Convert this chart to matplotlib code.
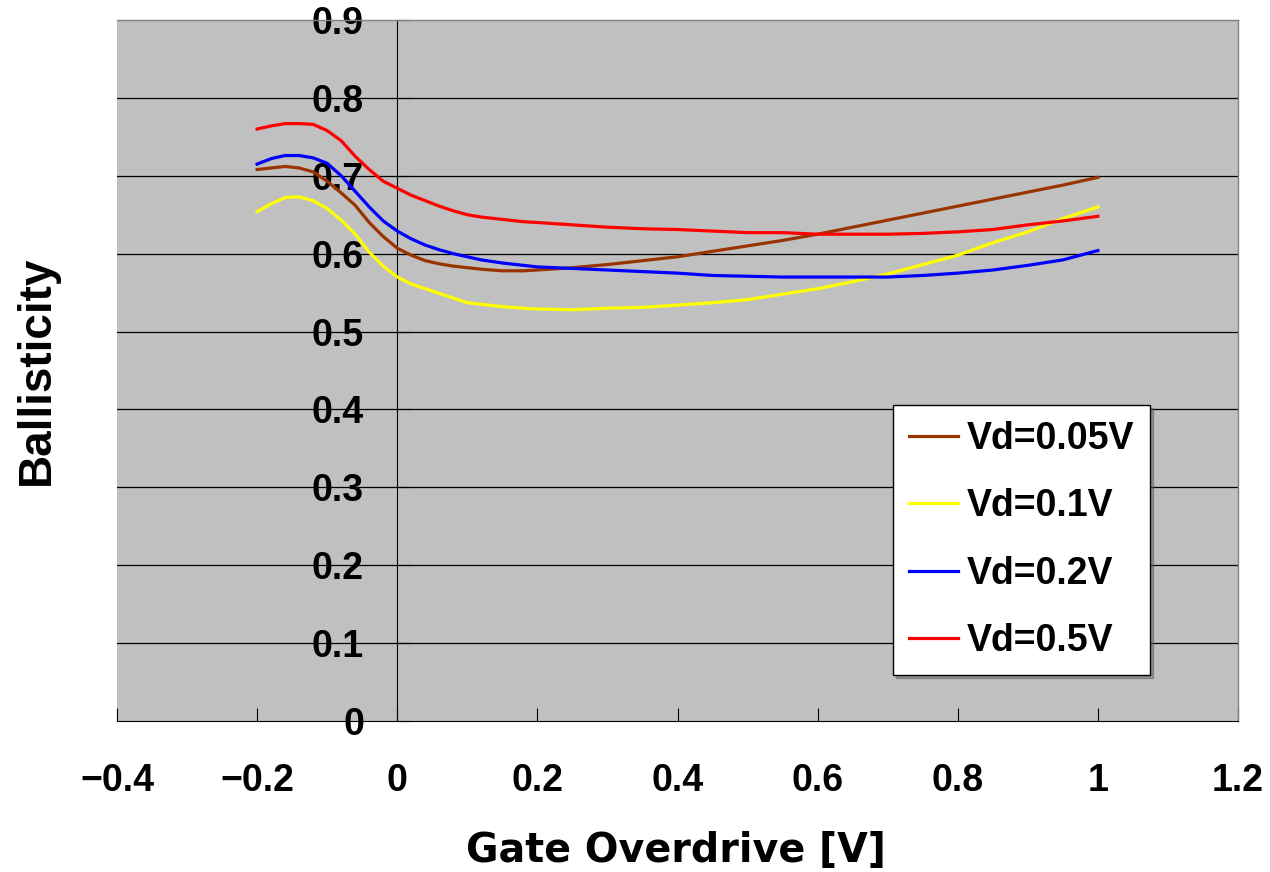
import matplotlib
matplotlib.use("Agg")
import matplotlib.pyplot as plt

plt.rcParams['font.family'] = ['Liberation Sans', 'DejaVu Sans']

# gate overdrive [V]
vg = [-0.2, -0.18, -0.16, -0.14, -0.12, -0.1, -0.08, -0.06, -0.04, -0.02,
      0, 0.02, 0.04, 0.06, 0.08, 0.1, 0.12, 0.15, 0.18, 0.2,
      0.25, 0.3, 0.35, 0.4, 0.45, 0.5, 0.55, 0.6, 0.65, 0.7,
      0.75, 0.8, 0.85, 0.9, 0.95, 1.0]

b_005 = [0.708, 0.710, 0.712, 0.710, 0.705, 0.693, 0.678, 0.662, 0.640, 0.622,
         0.607, 0.598, 0.591, 0.587, 0.584, 0.582, 0.580, 0.578, 0.578, 0.579,
         0.582, 0.586, 0.591, 0.596, 0.603, 0.610, 0.617, 0.625, 0.634, 0.643,
         0.652, 0.661, 0.670, 0.679, 0.688, 0.698]
b_01 = [0.654, 0.664, 0.672, 0.673, 0.668, 0.658, 0.643, 0.625, 0.602, 0.584,
        0.570, 0.561, 0.555, 0.549, 0.543, 0.537, 0.535, 0.532, 0.530, 0.529,
        0.528, 0.530, 0.531, 0.534, 0.537, 0.541, 0.548, 0.555, 0.564, 0.574,
        0.586, 0.598, 0.614, 0.628, 0.645, 0.660]
b_02 = [0.715, 0.722, 0.726, 0.726, 0.723, 0.716, 0.700, 0.680, 0.660, 0.642,
        0.629, 0.619, 0.611, 0.605, 0.600, 0.596, 0.592, 0.588, 0.585, 0.583,
        0.581, 0.579, 0.577, 0.575, 0.572, 0.571, 0.570, 0.570, 0.570, 0.570,
        0.572, 0.575, 0.579, 0.585, 0.592, 0.604]
b_05 = [0.760, 0.764, 0.767, 0.767, 0.766, 0.758, 0.745, 0.725, 0.708, 0.693,
        0.684, 0.675, 0.668, 0.661, 0.655, 0.650, 0.647, 0.644, 0.641, 0.640,
        0.637, 0.634, 0.632, 0.631, 0.629, 0.627, 0.627, 0.625, 0.625, 0.625,
        0.626, 0.628, 0.631, 0.637, 0.642, 0.648]

labels = ['Vd=0.05V', 'Vd=0.1V', 'Vd=0.2V', 'Vd=0.5V']
colors = ['#993300', '#FFFF00', '#0000FF', '#FF0000']
xticks = [-0.4, -0.2, 0, 0.2, 0.4, 0.6, 0.8, 1, 1.2]
yticks = [0, 0.1, 0.2, 0.3, 0.4, 0.5, 0.6, 0.7, 0.8, 0.9]

fig = plt.figure(figsize=(12.7, 8.72), dpi=100)
ax = fig.add_axes([117/1270, 1-721/872, (1238-117)/1270, (721-20)/872])
ax.set_facecolor('#C0C0C0')

for ys, lab, c in zip([b_005, b_01, b_02, b_05], labels, colors):
    ax.plot(vg, ys, color=c, lw=2.3, label=lab, zorder=3)

ax.set_xlim(-0.4, 1.2)
ax.set_ylim(0, 0.9)
ax.set_xticks(xticks)
ax.set_yticks(yticks)
ax.set_xticklabels([f'{v:g}'.replace('-', '\u2212') for v in xticks])
ax.set_yticklabels([f'{v:g}' for v in yticks])

# excel style: y axis crosses at x=0
ax.spines['left'].set_position(('data', 0))
ax.spines['left'].set_color('black')
ax.spines['bottom'].set_color('black')
for s in ['top', 'right']:
    ax.spines[s].set_color('#808080')
    ax.spines[s].set_linewidth(1.0)

for y in yticks[1:-1]:
    ax.axhline(y, color='black', lw=0.9, zorder=1)

ax.tick_params(axis='x', direction='in', length=9.5, pad=30, labelsize=27)
ax.tick_params(axis='y', direction='in', length=9.5, pad=24, labelsize=27)
for t in ax.get_xticklabels() + ax.get_yticklabels():
    t.set_fontweight('bold')

fig.text(676/1270, 1-851/872, 'Gate Overdrive [V]', fontsize=28.5,
         family='DejaVu Sans', fontweight='bold', ha='center', va='center')
fig.text(37/1270, 1-370/872, 'Ballisticity', rotation=90, fontsize=33,
         fontweight='bold', ha='center', va='center')

leg = ax.legend(loc='upper left', bbox_to_anchor=(893/1270, 1-405/872),
                bbox_transform=fig.transFigure, borderaxespad=0,
                fancybox=False, edgecolor='black', framealpha=1,
                prop={'size': 27, 'weight': 'bold'},
                handlelength=1.3, handletextpad=0.25,
                labelspacing=0.84, borderpad=0.42,
                shadow={'color': '#606060'})
leg.get_frame().set_linewidth(1.0)

fig.savefig('out.png', dpi=100)
